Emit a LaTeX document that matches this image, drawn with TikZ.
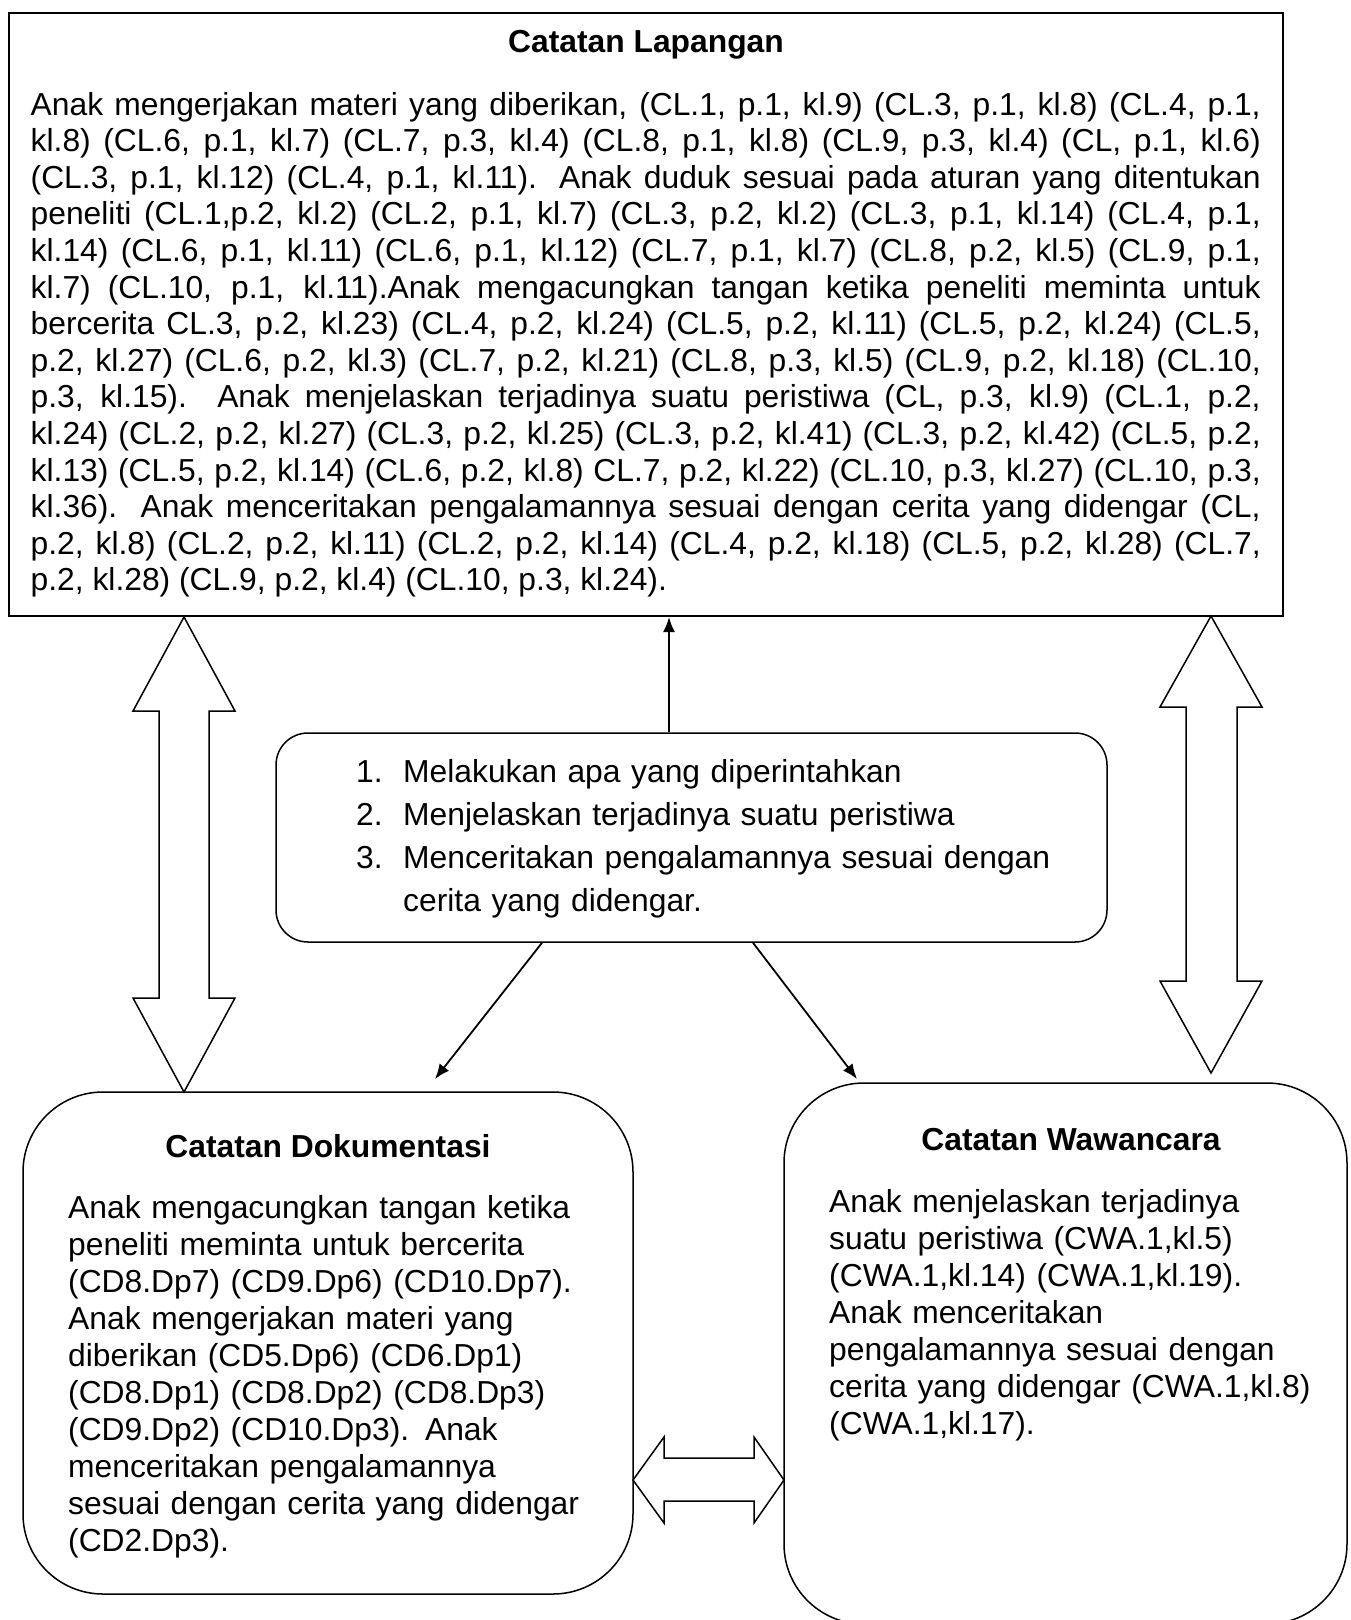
\documentclass[tikz,border=0pt]{standalone}
\usepackage{fontspec}
\setmainfont{Liberation Sans}
\usetikzlibrary{arrows.meta}
\newcommand\fsbody{\fontsize{31.8pt}{36.6pt}\selectfont}
\newcommand\fslist{\fontsize{31.8pt}{43pt}\selectfont}
\newcommand\fsside{\fontsize{31.8pt}{37pt}\selectfont}
\begin{document}
\begin{tikzpicture}[x=1pt,y=-1pt,
  sqbox/.style={draw, line width=2pt, inner sep=0pt},
  rbox/.style={draw, line width=1.5pt, inner sep=0pt},
  ttl/.style={inner sep=0pt, anchor=base, font=\fsbody\bfseries},
  txt/.style={inner sep=0pt, anchor=base west, align=left},
  blockarrow/.style={draw, fill=white, line width=1.5pt, line join=miter},
  arr/.style={line width=1.8pt, -{Latex[length=15pt,width=12pt]}}]
\useasboundingbox (0,0) rectangle (1350,1620);
\clip (0,0) rectangle (1350,1620);

% boxes
\node[sqbox, minimum width=1274pt, minimum height=603pt] (lap) at (646,314.5) {};
\node[rbox, rounded corners=32pt, minimum width=831pt, minimum height=209pt] (ind) at (691.5,837.5) {};
\node[rbox, rounded corners=80pt, minimum width=610pt, minimum height=502pt] (dok) at (328,1343) {};
\node[rbox, rounded corners=80pt, minimum width=563pt, minimum height=541pt] (waw) at (1065.5,1353.5) {};

% titles
\node[ttl] (laptitle) at (646,52) {Catatan Lapangan};
\node[ttl] (doktitle) at (328,1157) {Catatan Dokumentasi};
\node[ttl] (wawtitle) at (1071,1150) {Catatan Wawancara};

% top paragraph
\node[txt, text width=1230pt, align=justify, font=\fsbody,
  execute at begin node={\tolerance=10000\hbadness=10000\hyphenpenalty=10000\exhyphenpenalty=10000}]
  (laptext) at (30.5,115) {%
Anak mengerjakan materi yang diberikan, (CL.1, p.1, kl.9) (CL.3, p.1, kl.8) (CL.4, p.1,\linebreak
kl.8) (CL.6, p.1, kl.7) (CL.7, p.3, kl.4) (CL.8, p.1, kl.8) (CL.9, p.3, kl.4) (CL, p.1, kl.6)\linebreak
(CL.3, p.1, kl.12) (CL.4, p.1, kl.11). Anak duduk sesuai pada aturan yang ditentukan\linebreak
peneliti (CL.1,p.2, kl.2) (CL.2, p.1, kl.7) (CL.3, p.2, kl.2) (CL.3, p.1, kl.14) (CL.4, p.1,\linebreak
kl.14) (CL.6, p.1, kl.11) (CL.6, p.1, kl.12) (CL.7, p.1, kl.7) (CL.8, p.2, kl.5) (CL.9, p.1,\linebreak
kl.7) (CL.10, p.1, kl.11).Anak mengacungkan tangan ketika peneliti meminta untuk\linebreak
bercerita CL.3, p.2, kl.23) (CL.4, p.2, kl.24) (CL.5, p.2, kl.11) (CL.5, p.2, kl.24) (CL.5,\linebreak
p.2, kl.27) (CL.6, p.2, kl.3) (CL.7, p.2, kl.21) (CL.8, p.3, kl.5) (CL.9, p.2, kl.18) (CL.10,\linebreak
p.3, kl.15). Anak menjelaskan terjadinya suatu peristiwa (CL, p.3, kl.9) (CL.1, p.2,\linebreak
kl.24) (CL.2, p.2, kl.27) (CL.3, p.2, kl.25) (CL.3, p.2, kl.41) (CL.3, p.2, kl.42) (CL.5, p.2,\linebreak
kl.13) (CL.5, p.2, kl.14) (CL.6, p.2, kl.8) CL.7, p.2, kl.22) (CL.10, p.3, kl.27) (CL.10, p.3,\linebreak
kl.36). Anak menceritakan pengalamannya sesuai dengan cerita yang didengar (CL,\linebreak
p.2, kl.8) (CL.2, p.2, kl.11) (CL.2, p.2, kl.14) (CL.4, p.2, kl.18) (CL.5, p.2, kl.28) (CL.7,\linebreak
p.2, kl.28) (CL.9, p.2, kl.4) (CL.10, p.3, kl.24).};

% middle list
\node[txt, text width=740pt, font=\fslist] (indtext) at (356,782) {%
\makebox[47pt][l]{1.}Melakukan apa yang diperintahkan\\
\makebox[47pt][l]{2.}Menjelaskan terjadinya suatu peristiwa\\
\makebox[47pt][l]{3.}Menceritakan pengalamannya sesuai dengan\\
\hspace*{47pt}cerita yang didengar.};

% left box text
\node[txt, text width=560pt, font=\fsside] (doktext) at (68,1218) {%
Anak mengacungkan tangan ketika\\
peneliti meminta untuk bercerita\\
(CD8.Dp7) (CD9.Dp6) (CD10.Dp7).\\
Anak mengerjakan materi yang\\
diberikan (CD5.Dp6) (CD6.Dp1)\\
(CD8.Dp1) (CD8.Dp2) (CD8.Dp3)\\
(CD9.Dp2) (CD10.Dp3). Anak\\
menceritakan pengalamannya\\
sesuai dengan cerita yang didengar\\
(CD2.Dp3).};

% right box text
\node[txt, text width=510pt, font=\fsside] (wawtext) at (829,1212) {%
Anak menjelaskan terjadinya\\
suatu peristiwa (CWA.1,kl.5)\\
(CWA.1,kl.14) (CWA.1,kl.19).\\
Anak menceritakan\\
pengalamannya sesuai dengan\\
cerita yang didengar (CWA.1,kl.8)\\
(CWA.1,kl.17).};

% thin arrows
\coordinate (dokin) at (435,1079);
\coordinate (wawin) at (857,1079);
\draw[arr] ([xshift=-22.5pt]ind.north) -- ([xshift=-22.5pt]ind.north |- lap.south);
\draw[arr] ([xshift=-149.5pt]ind.south) -- (dokin);
\draw[arr] ([xshift=61.5pt]ind.south) -- (wawin);

% block double arrows
\draw[blockarrow] (184,617) -- (235,711) -- (209,711) -- (209,998) -- (235,998) -- (184,1092)
  -- (133,998) -- (159,998) -- (159,711) -- (133,711) -- cycle;
\draw[blockarrow] (1211,616) -- (1262,707) -- (1237,707) -- (1237,981) -- (1262,981) -- (1211,1073)
  -- (1160,981) -- (1186,981) -- (1186,707) -- (1160,707) -- cycle;
\draw[blockarrow] (633,1480) -- (664,1437) -- (664,1458) -- (754,1458) -- (754,1437) -- (784,1480)
  -- (754,1523) -- (754,1501) -- (664,1501) -- (664,1523) -- cycle;
\end{tikzpicture}
\end{document}
